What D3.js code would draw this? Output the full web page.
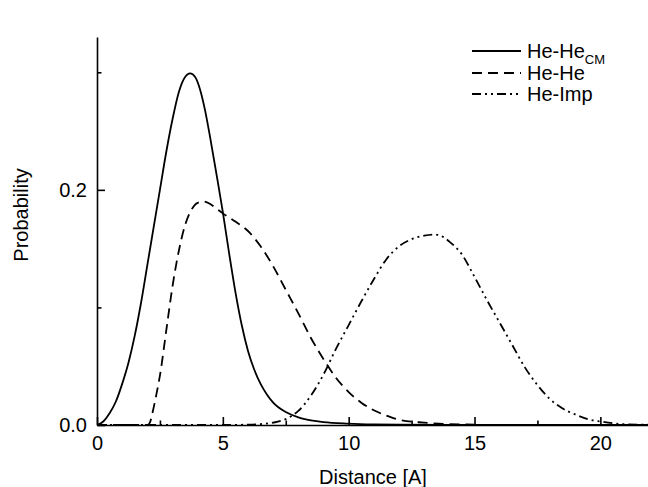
<!DOCTYPE html>
<html>
<head>
<meta charset="utf-8">
<script src="https://cdn.jsdelivr.net/npm/d3@7"></script>
<style>
body { margin: 0; background: #fff; }
text { font-family: "Liberation Sans", Arial, sans-serif; fill: #000; }
</style>
</head>
<body>
<div id="chart"></div>
<script>
// valeurs (distance en A, probabilite)
var heHeCmX = [0, 0.25, 0.5, 0.75, 1.0, 1.25, 1.5, 1.75, 2.0, 2.25, 2.5, 2.75, 3.0, 3.25, 3.5, 3.7, 3.9, 4.1, 4.3, 4.5, 4.75, 5.0, 5.25, 5.5, 5.75, 6.0, 6.25, 6.5, 6.75, 7.0, 7.5, 8.0, 8.5, 9.0, 10, 11, 12, 14, 22];
var heHeCmY = [0, 0.003, 0.010, 0.020, 0.035, 0.053, 0.076, 0.104, 0.136, 0.168, 0.200, 0.232, 0.260, 0.283, 0.296, 0.299, 0.296, 0.285, 0.267, 0.244, 0.213, 0.181, 0.146, 0.113, 0.085, 0.063, 0.047, 0.035, 0.026, 0.019, 0.011, 0.0065, 0.004, 0.0025, 0.0012, 0.0005, 0.0002, 0, 0];

var heHeX = [0, 2.0, 2.1, 2.2, 2.35, 2.5, 2.75, 3.0, 3.25, 3.5, 3.75, 4.0, 4.25, 4.5, 4.75, 5.0, 5.5, 6.0, 6.5, 7.0, 7.5, 8.0, 8.5, 9.0, 9.5, 10.0, 10.5, 11.0, 11.5, 12.0, 13, 14, 15, 16, 22];
var heHeY = [0, 0, 0.002, 0.010, 0.025, 0.042, 0.080, 0.118, 0.148, 0.170, 0.183, 0.189, 0.190, 0.188, 0.184, 0.180, 0.173, 0.165, 0.152, 0.135, 0.115, 0.095, 0.074, 0.056, 0.040, 0.028, 0.019, 0.0125, 0.008, 0.0045, 0.002, 0.0008, 0.0003, 0, 0];

var heImpX = [0, 5, 6, 6.5, 7, 7.5, 8, 8.5, 9, 9.5, 10, 10.5, 11, 11.5, 12, 12.5, 13, 13.4, 13.75, 14, 14.5, 15, 15.5, 16, 16.5, 17, 17.5, 18, 18.5, 19, 19.5, 20, 20.5, 21, 22];
var heImpY = [0, 0, 0.0003, 0.0008, 0.002, 0.005, 0.012, 0.025, 0.043, 0.065, 0.085, 0.105, 0.124, 0.141, 0.152, 0.158, 0.161, 0.162, 0.160, 0.156, 0.145, 0.126, 0.106, 0.087, 0.068, 0.049, 0.034, 0.022, 0.014, 0.009, 0.005, 0.003, 0.0015, 0.0006, 0.0002];

var xTicks = [0, 5, 10, 15, 20];
var xMinorTicks = [2.5, 7.5, 12.5, 17.5];
var yTicks = [0, 0.2];
var yMinorTicks = [0.1, 0.3];
var legendLabels = ["He-He", "He-He", "He-Imp"];
var legendSub = ["CM", "", ""];

var width = 648, height = 487;
var mLeft = 97, mRight = 650.7, mTop = 37, mBottom = 425;

var svg = d3.select("#chart").append("svg")
    .attr("width", width)
    .attr("height", height);

var x = d3.scaleLinear().domain([0, 22]).range([mLeft, mRight]);
var y = d3.scaleLinear().domain([0, 0.33]).range([mBottom, mTop]);

// axes, graduations vers l'interieur
svg.append("g")
    .attr("transform", "translate(0," + mBottom + ")")
    .call(d3.axisBottom(x).tickValues(xTicks).tickSizeInner(-8).tickSizeOuter(0).tickPadding(11)
        .tickFormat(d3.format("d")));
svg.append("g")
    .attr("transform", "translate(0," + mBottom + ")")
    .call(d3.axisBottom(x).tickValues(xMinorTicks).tickSizeInner(-4.5).tickSizeOuter(0).tickFormat(""))
    .select(".domain").remove();

svg.append("g")
    .attr("transform", "translate(" + mLeft + ",0)")
    .call(d3.axisLeft(y).tickValues(yTicks).tickSizeInner(-8).tickSizeOuter(0).tickPadding(10)
        .tickFormat(d3.format(".1f")));
svg.append("g")
    .attr("transform", "translate(" + mLeft + ",0)")
    .call(d3.axisLeft(y).tickValues(yMinorTicks).tickSizeInner(-4.5).tickSizeOuter(0).tickFormat(""))
    .select(".domain").remove();

svg.selectAll(".domain, .tick line")
    .attr("stroke", "#000")
    .attr("stroke-width", 1.6);
svg.selectAll(".tick text")
    .style("font-size", "20px")
    .style("font-family", "'Liberation Sans', Arial, sans-serif")
    .attr("fill", "#000");

svg.append("text")
    .attr("x", 373)
    .attr("y", 484)
    .attr("text-anchor", "middle")
    .style("font-size", "20px")
    .text("Distance [A]");

svg.append("text")
    .attr("transform", "translate(28,215) rotate(-90)")
    .attr("text-anchor", "middle")
    .style("font-size", "20px")
    .text("Probability");

// courbes
var series = [
    { xs: heHeCmX, ys: heHeCmY, dash: null },
    { xs: heHeX, ys: heHeY, dash: "10,6" },
    { xs: heImpX, ys: heImpY, dash: "9,4,2,4,2,4" }
];

var line = d3.line()
    .x(function(d) { return x(d[0]); })
    .y(function(d) { return y(d[1]); })
    .curve(d3.curveMonotoneX);

var plot = svg.append("g");
plot.append("clipPath").attr("id", "clip")
    .append("rect").attr("x", mLeft).attr("y", 0).attr("width", width - mLeft).attr("height", mBottom + 1);

for (var i = 0; i < series.length; i++) {
    var pts = series[i].xs.map(function(v, k) { return [v, series[i].ys[k]]; });
    plot.append("path")
        .datum(pts)
        .attr("d", line)
        .attr("fill", "none")
        .attr("stroke", "#000")
        .attr("stroke-width", 1.8)
        .attr("stroke-dasharray", series[i].dash)
        .attr("clip-path", "url(#clip)");
}

// legende
var legendY = [51, 73, 94];
for (var j = 0; j < legendLabels.length; j++) {
    svg.append("line")
        .attr("x1", 472).attr("x2", 521)
        .attr("y1", legendY[j]).attr("y2", legendY[j])
        .attr("stroke", "#000")
        .attr("stroke-width", 1.8)
        .attr("stroke-dasharray", series[j].dash);
    var t = svg.append("text")
        .attr("x", 527)
        .attr("y", legendY[j] + 7)
        .style("font-size", "20px")
        .text(legendLabels[j]);
    if (legendSub[j] != "") {
        t.append("tspan")
            .attr("dy", 6)
            .style("font-size", "13px")
            .text(legendSub[j]);
    }
}
</script>
</body>
</html>
